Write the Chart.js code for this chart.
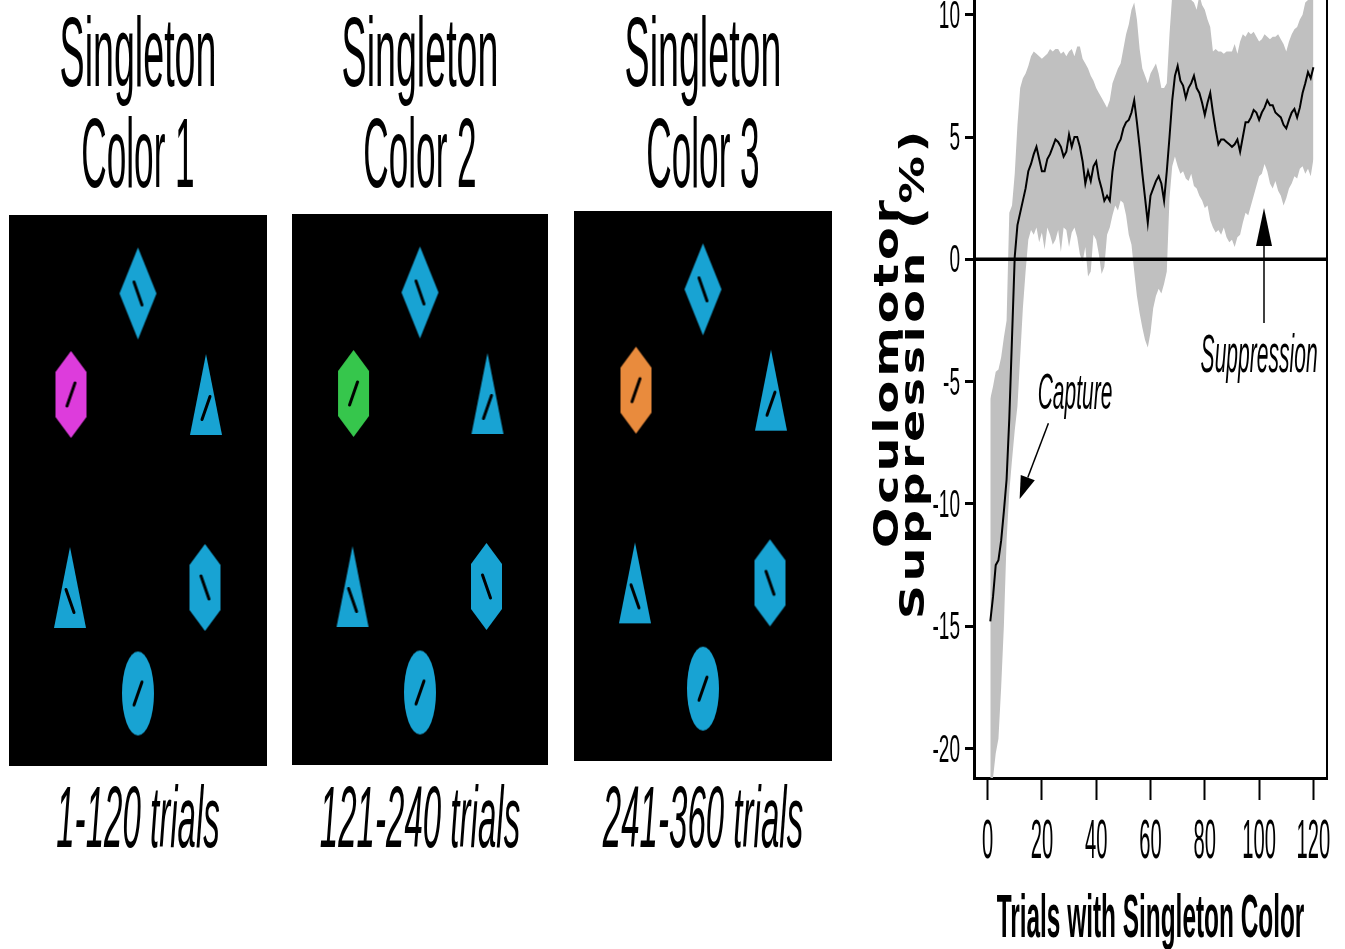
<!DOCTYPE html>
<html>
<head>
<meta charset="utf-8">
<script src="https://cdn.jsdelivr.net/npm/chart.js@4.4.0/dist/chart.umd.min.js"></script>
<style>
    html, body { margin: 0; padding: 0; background: #fff; overflow: hidden; }
    canvas { position: absolute; top: 0; }
</style>
</head>
<body>
<canvas id="panel1" width="282" height="949" style="left:0px"></canvas>
<canvas id="panel2" width="282" height="949" style="left:283px"></canvas>
<canvas id="panel3" width="282" height="949" style="left:565px"></canvas>
<canvas id="curve" width="485" height="949" style="left:860px"></canvas>
<script>
'use strict';

/** Singleton colour displays + oculomotor suppression over trials */

// ---- curve data ----
const trials = Array.from({ length: 120 }, (_, i) => i + 1);

const meanSuppression = [
    -14.8, -13.8, -12.5, -12.3, -11.5, -10.3, -9.0, -6.5, -3.2, 0.1,
    1.4, 1.9, 2.4, 2.9, 3.6, 3.9, 4.3, 4.6, 4.1, 3.6,
    3.6, 4.1, 4.3, 4.6, 4.9, 4.8, 4.6, 4.2, 4.4, 5.1,
    4.6, 5.0, 5.0, 4.6, 4.0, 3.1, 3.6, 3.2, 3.8, 4.0,
    3.3, 2.9, 2.4, 2.6, 2.4, 3.6, 4.4, 4.7, 4.9, 5.35,
    5.6, 5.7, 6.0, 6.5, 5.6, 4.6, 3.5, 2.5, 1.5, 2.6,
    2.9, 3.2, 3.4, 3.1, 2.4, 3.6, 5.0, 6.5, 7.5, 7.9,
    7.3, 7.1, 6.6, 7.0, 7.2, 7.5, 7.0, 6.8, 6.4, 5.9,
    6.4, 6.8, 6.0, 5.3, 4.7, 4.9, 4.9, 4.8, 4.7, 4.6,
    4.7, 4.9, 4.4, 5.0, 5.6, 5.6, 5.8, 6.1, 6.0, 5.7,
    6.0, 6.2, 6.5, 6.3, 6.3, 6.0, 5.9, 5.8, 5.5, 5.35,
    5.7, 6.0, 6.15, 5.8, 6.2, 6.8, 7.2, 7.65, 7.4, 7.85,
];

const upperCI = [
    -5.7, -5.2, -4.6, -4.5, -4.0, -3.2, -2.5, 1.9, 2.2, 3.5,
    5.5, 7.0, 7.4, 7.6, 7.9, 8.3, 8.5, 8.4, 8.3, 8.2,
    8.3, 8.4, 8.6, 8.5, 8.6, 8.6, 8.4, 8.5, 8.3, 8.5,
    8.6, 8.3, 8.7, 8.7, 8.2, 8.0, 7.8, 7.5, 7.3, 7.0,
    6.8, 6.6, 6.4, 6.2, 6.5, 7.2, 7.5, 7.8, 8.0, 8.6,
    9.2, 9.6, 10.2, 10.5, 9.8, 8.6, 7.8, 7.5, 7.2, 7.6,
    7.8, 8.0, 7.6, 7.0, 7.0, 7.2, 9.2, 10.8, 11.2, 11.2,
    11.0, 11.0, 10.9, 10.8, 10.6, 10.5, 10.2, 10.8, 10.4, 10.2,
    9.8, 9.5, 8.5, 8.6, 8.5, 8.5, 8.4, 8.5, 8.5, 8.5,
    8.8, 8.4, 8.9, 9.2, 9.1, 9.3, 9.2, 9.3, 9.1, 8.9,
    9.0, 9.2, 9.1, 9.0, 9.1, 9.1, 9.2, 9.0, 8.8, 8.5,
    8.9, 9.2, 9.4, 9.5, 9.8, 10.0, 10.5, 10.6, 11.0, 11.2,
];

const lowerCI = [
    -22.0, -21.2, -20.2, -19.6, -17.5, -15.0, -11.5, -9.5, -8.2, -7.0,
    -6.0, -4.0, -2.0, -0.5, 0.8, 1.2, 1.0, 1.3, 0.7, 1.1,
    0.4, 1.3, 1.0, 0.6, 0.8, 1.2, 0.3, 1.3, 1.2, 0.5,
    1.1, 1.3, 0.9, 0.2, -0.1, 0.5, -0.7, -0.5, 1.0, 0.8,
    0.2, -0.6, -0.3, 1.0, 1.3, 1.8, 2.2, 2.0, 2.4, 2.3,
    1.8, 1.0, 0.6, -0.5, -1.5, -2.2, -2.8, -3.3, -3.6, -3.0,
    -2.0, -1.5, -1.2, -1.4, -1.0, -0.5, 2.5, 3.8, 4.2, 3.8,
    3.5, 3.6, 3.3, 3.2, 3.5, 3.0, 2.9, 2.6, 2.4, 2.1,
    2.2, 1.6, 1.3, 1.1, 1.2, 1.0, 1.3, 0.9, 0.7, 0.8,
    0.5, 0.9, 1.0, 1.5, 1.9, 1.8, 2.2, 2.6, 3.0, 3.4,
    3.5, 3.9, 3.6, 3.1, 2.9, 3.2, 2.8, 2.6, 2.2, 2.5,
    2.9, 3.1, 3.4, 3.3, 3.7, 3.8, 3.5, 3.7, 3.4, 4.1,
];

const xTickValues = [0, 20, 40, 60, 80, 100, 120];
const yTickValues = [-20, -15, -10, -5, 0, 5, 10];

// ---- display panels ----
const colorLabels = ['Color 1', 'Color 2', 'Color 3'];
const trialRanges = ['1-120 trials', '121-240 trials', '241-360 trials'];
const singletonColors = ['#dd3cdc', '#36c64c', '#e98b3d'];
const itemShapes = ['diamond', 'hexagon', 'triangle', 'triangle', 'hexagon', 'ellipse'];
const itemX = [0, -67, 68, -68, 67, 0];
const itemY = [197, 96, 96, -97, -97, -203];
const itemTilt = [-1, 1, 1, -1, -1, 1]; // 1 = '/', -1 = '\'
const singletonIndex = 1;

const ITEM_BLUE = '#18a3d3';
const SHAPE_SIZE = { diamond: [37, 92], hexagon: [31, 87], triangle: [32, 81], ellipse: [32, 84] };

function makeItem(shape, color, tilt) {
    const [w, h] = SHAPE_SIZE[shape];
    const c = document.createElement('canvas');
    c.width = w + 2;
    c.height = h + 2;
    const g = c.getContext('2d');
    g.translate(1, 1);
    g.fillStyle = color;
    g.beginPath();
    if (shape === 'diamond') {
        g.moveTo(w / 2, 0); g.lineTo(w, h / 2); g.lineTo(w / 2, h); g.lineTo(0, h / 2);
    } else if (shape === 'hexagon') {
        const k = h * 0.24;
        g.moveTo(w / 2, 0); g.lineTo(w, k); g.lineTo(w, h - k);
        g.lineTo(w / 2, h); g.lineTo(0, h - k); g.lineTo(0, k);
    } else if (shape === 'triangle') {
        g.moveTo(w / 2, 0); g.lineTo(w, h); g.lineTo(0, h);
    } else {
        g.ellipse(w / 2, h / 2, w / 2, h / 2, 0, 0, Math.PI * 2);
    }
    g.closePath();
    g.fill();

    // the little oriented bar inside each item
    const cy = shape === 'triangle' ? (h * 2) / 3 : h / 2;
    g.strokeStyle = '#000';
    g.lineWidth = 3;
    g.lineCap = 'round';
    g.beginPath();
    g.moveTo(w / 2 + 4 * tilt, cy - 11.5);
    g.lineTo(w / 2 - 4 * tilt, cy + 11.5);
    g.stroke();
    return c;
}

function squeezeText(ctx, text, x, y, font, sx, align) {
    ctx.save();
    ctx.font = font;
    ctx.textAlign = align || 'center';
    ctx.textBaseline = 'alphabetic';
    ctx.fillStyle = '#000';
    ctx.translate(x, y);
    ctx.scale(sx, 1);
    ctx.fillText(text, 0, 0);
    ctx.restore();
}

function panelText(colorLabel, trialRange) {
    return {
        id: 'panelText',
        beforeDatasetsDraw(chart) {
            const { ctx, chartArea: a } = chart;
            ctx.save();
            ctx.fillStyle = '#000';
            ctx.fillRect(a.left, a.top, a.right - a.left, a.bottom - a.top);
            ctx.restore();
        },
        afterDraw(chart) {
            const { ctx, chartArea: a } = chart;
            const cx = (a.left + a.right) / 2;
            squeezeText(ctx, 'Singleton', cx, 86, '99px "Liberation Sans"', 0.38);
            squeezeText(ctx, colorLabel, cx, 187, '99px "Liberation Sans"', 0.355);
            squeezeText(ctx, trialRange, cx, 847, 'italic 87px "Liberation Sans"', 0.38);
        },
    };
}

const panelBoxes = [
    { top: 215, bottom: 183, right: 15 },
    { top: 214, bottom: 184, right: 17 },
    { top: 211, bottom: 188, right: 15 },
];

colorLabels.forEach((label, p) => {
    const box = panelBoxes[p];
    const styles = itemShapes.map((s, i) =>
        makeItem(s, i === singletonIndex ? singletonColors[p] : ITEM_BLUE, itemTilt[i])
    );
    new Chart(document.getElementById('panel' + (p + 1)).getContext('2d'), {
        type: 'scatter',
        data: {
            datasets: [
                {
                    data: itemX.map((x, i) => ({ x: x, y: itemY[i] })),
                    pointStyle: styles,
                    pointRadius: 20,
                    pointHoverRadius: 20,
                },
            ],
        },
        options: {
            responsive: false,
            animation: false,
            devicePixelRatio: 1,
            events: [],
            layout: { autoPadding: false, padding: { left: 9, right: box.right, top: box.top, bottom: box.bottom } },
            scales: {
                x: { display: false, min: -129, max: 129 },
                y: { display: false, min: -275.5, max: 275.5 },
            },
            plugins: { legend: { display: false }, tooltip: { enabled: false } },
        },
        plugins: [panelText(label, trialRanges[p])],
    });
});

// ---- suppression curve ----
function drawArrow(ctx, x1, y1, x2, y2, headLen, headW) {
    const a = Math.atan2(y2 - y1, x2 - x1);
    const bx = x2 - headLen * Math.cos(a);
    const by = y2 - headLen * Math.sin(a);
    ctx.beginPath();
    ctx.moveTo(x1, y1);
    ctx.lineTo(bx, by);
    ctx.stroke();
    ctx.beginPath();
    ctx.moveTo(x2, y2);
    ctx.lineTo(bx + (headW / 2) * Math.sin(a), by - (headW / 2) * Math.cos(a));
    ctx.lineTo(bx - (headW / 2) * Math.sin(a), by + (headW / 2) * Math.cos(a));
    ctx.closePath();
    ctx.fill();
}

// wide, heavy, lightly spaced rotated title line
function wideVertical(ctx, text, bx, cy, spacing) {
    ctx.save();
    ctx.font = 'bold 34px "DejaVu Sans"';
    ctx.letterSpacing = spacing + 'px';
    ctx.textAlign = 'center';
    ctx.textBaseline = 'alphabetic';
    ctx.fillStyle = '#000';
    ctx.translate(bx, cy);
    ctx.rotate(-Math.PI / 2);
    ctx.scale(1.4, 1);
    ctx.fillText(text, spacing / 2, 0);
    ctx.restore();
}

const curveText = {
    id: 'curveText',
    afterDraw(chart) {
        const { ctx, chartArea: a, scales: { x, y } } = chart;

        xTickValues.forEach((v) =>
            squeezeText(ctx, String(v), x.getPixelForValue(v), 858, '56px "Liberation Sans"', 0.36)
        );
        yTickValues.forEach((v) =>
            squeezeText(ctx, String(v), a.left - 14, y.getPixelForValue(v) + 13, '38px "Liberation Sans"', 0.5, 'right')
        );
        squeezeText(ctx, 'Trials with Singleton Color', (a.left + a.right) / 2, 937, 'bold 61px "Liberation Sans"', 0.4);

        wideVertical(ctx, 'Oculomotor', 38, 374, 2.8);
        wideVertical(ctx, 'Suppression (%)', 64, 375, 2.5);

        // annotations
        ctx.save();
        ctx.fillStyle = '#000';
        ctx.strokeStyle = '#000';
        ctx.lineWidth = 1.5;
        squeezeText(ctx, 'Capture', x.getPixelForValue(32.2), y.getPixelForValue(-6.1), 'italic 50px "Liberation Sans"', 0.42);
        drawArrow(ctx, x.getPixelForValue(22.4), y.getPixelForValue(-6.7), x.getPixelForValue(11.8), y.getPixelForValue(-9.8), 23, 15);
        squeezeText(ctx, 'Suppression', x.getPixelForValue(100), y.getPixelForValue(-4.6), 'italic 54px "Liberation Sans"', 0.39);
        drawArrow(ctx, x.getPixelForValue(101.8), y.getPixelForValue(-2.6), x.getPixelForValue(101.8), y.getPixelForValue(2.1), 38, 16);
        ctx.restore();
    },
};

new Chart(document.getElementById('curve').getContext('2d'), {
    type: 'line',
    data: {
        labels: trials,
        datasets: [
            {
                label: 'upper',
                data: upperCI,
                fill: '+1',
                backgroundColor: '#c0c0c0',
                borderColor: 'rgba(0,0,0,0)',
                borderWidth: 1,
                pointRadius: 0,
                order: 3,
            },
            {
                label: 'lower',
                data: lowerCI,
                fill: false,
                borderColor: 'rgba(0,0,0,0)',
                borderWidth: 1,
                pointRadius: 0,
                order: 3,
            },
            {
                label: 'zero',
                data: [{ x: -5, y: 0 }, { x: 125, y: 0 }],
                fill: false,
                borderColor: '#000',
                borderWidth: 3.5,
                pointRadius: 0,
                order: 2,
            },
            {
                label: 'mean',
                data: meanSuppression,
                fill: false,
                borderColor: '#000',
                borderWidth: 2,
                pointRadius: 0,
                tension: 0,
                order: 1,
            },
        ],
    },
    options: {
        responsive: false,
        animation: false,
        devicePixelRatio: 1,
        events: [],
        layout: { autoPadding: false, padding: { left: 105, right: 18, top: 0, bottom: 141 } },
        scales: {
            x: {
                type: 'linear',
                min: -5,
                max: 125,
                afterBuildTicks: (s) => { s.ticks = xTickValues.map((v) => ({ value: v })); },
                afterFit: (s) => { s.height = 30; },
                ticks: { display: false },
                grid: { drawOnChartArea: false, tickLength: 22, tickWidth: 2, tickColor: '#000' },
                border: { color: '#000', width: 3 },
            },
            y: {
                min: -21.2,
                max: 10.6,
                afterBuildTicks: (s) => { s.ticks = yTickValues.map((v) => ({ value: v })); },
                afterFit: (s) => { s.width = 9; },
                ticks: { display: false },
                grid: { drawOnChartArea: false, tickLength: 9, tickWidth: 3, tickColor: '#000' },
                border: { color: '#000', width: 3 },
            },
            yRight: {
                position: 'right',
                min: -21.2,
                max: 10.6,
                afterFit: (s) => { s.width = 0; },
                ticks: { display: false },
                grid: { display: false },
                border: { color: '#000', width: 2 },
            },
        },
        plugins: { legend: { display: false }, tooltip: { enabled: false } },
    },
    plugins: [curveText],
});
</script>
</body>
</html>
